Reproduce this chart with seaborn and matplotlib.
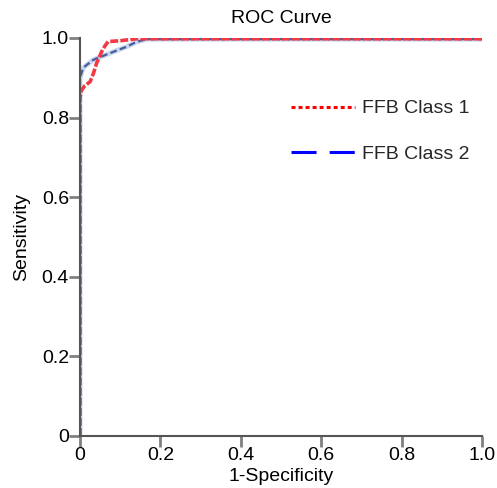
import matplotlib
matplotlib.use("Agg")
import matplotlib.pyplot as plt
import seaborn as sns
import pandas as pd
from matplotlib.lines import Line2D

sns.set_theme(style="white")
plt.rcParams['font.family'] = ['Liberation Sans', 'DejaVu Sans']

# Data
class1_fpr = [0.0, 0.0, 0.004, 0.012, 0.025, 0.033, 0.041, 0.054, 0.062, 0.070, 0.10, 0.14, 0.20, 0.40, 0.60, 0.80, 1.0]
class1_tpr = [0.0, 0.85, 0.869, 0.88, 0.89, 0.91, 0.936, 0.966, 0.98, 0.991, 0.993, 0.998, 0.998, 0.998, 0.998, 0.998, 0.998]
class2_fpr = [0.0, 0.0, 0.008, 0.020, 0.033, 0.050, 0.075, 0.095, 0.116, 0.140, 0.166, 0.20, 0.40, 0.60, 0.80, 1.0]
class2_tpr = [0.0, 0.90, 0.925, 0.935, 0.945, 0.952, 0.962, 0.970, 0.978, 0.990, 0.997, 0.997, 0.997, 0.997, 0.997, 0.997]
labels = ["FFB Class 1", "FFB Class 2"]
xticks = [0, 0.2, 0.4, 0.6, 0.8, 1.0]
xticklabels = ["0", "0.2", "0.4", "0.6", "0.8", "1.0"]
yticks = [0, 0.2, 0.4, 0.6, 0.8, 1.0]
yticklabels = ["0", "0.2", "0.4", "0.6", "0.8", "1.0"]

df1 = pd.DataFrame({"fpr": class1_fpr, "tpr": class1_tpr})
df2 = pd.DataFrame({"fpr": class2_fpr, "tpr": class2_tpr})

fig = plt.figure(figsize=(4.97, 4.88), dpi=100)
ax = fig.add_axes([0.161, 0.1066, 0.809, 0.8156])

sns.lineplot(data=df2, x="fpr", y="tpr", ax=ax, color="#c9d6ef", lw=3.5, sort=False, estimator=None)
sns.lineplot(data=df2, x="fpr", y="tpr", ax=ax, color="#4a5c9c", lw=1.6, sort=False, estimator=None,
             linestyle=(0, (3, 1.5)))
sns.lineplot(data=df1, x="fpr", y="tpr", ax=ax, color="#f23a45", lw=2.6, sort=False, estimator=None,
             linestyle=(0, (2.2, 0.6)))

ax.set_xlim(0, 1.0)
ax.set_ylim(0, 1.0)
ax.set_xticks(xticks)
ax.set_xticklabels(xticklabels)
ax.set_yticks(yticks)
ax.set_yticklabels(yticklabels)
ax.tick_params(axis="both", which="major", direction="out", length=8, width=2,
               color="#808080", labelsize=14, pad=0,
               bottom=True, left=True)
for lab in ax.get_xticklabels() + ax.get_yticklabels():
    lab.set_color("black")
for s in ["top", "right"]:
    ax.spines[s].set_visible(False)
for s in ["left", "bottom"]:
    ax.spines[s].set_visible(True)
    ax.spines[s].set_color("#555555")
    ax.spines[s].set_linewidth(1.5)

ax.set_xlabel("1-Specificity", fontsize=14, labelpad=3, color="black")
ax.set_ylabel("Sensitivity", fontsize=14, labelpad=8, color="black")
ax.set_title("ROC Curve", fontsize=14, pad=11, color="black")

handles = [
    Line2D([0], [0], color="#ff0000", lw=2.2, linestyle=(0, (1.3, 1.0))),
    Line2D([0], [0], color="#0000ff", lw=2.2, linestyle=(0, (8.2, 4.3))),
]
ax.legend(handles, labels, frameon=False, fontsize=14, handlelength=3.3,
          handletextpad=0.35, labelspacing=1.45, loc="upper left",
          bbox_to_anchor=(0.505, 0.864), borderaxespad=0)

fig.savefig("out.png", dpi=100)
